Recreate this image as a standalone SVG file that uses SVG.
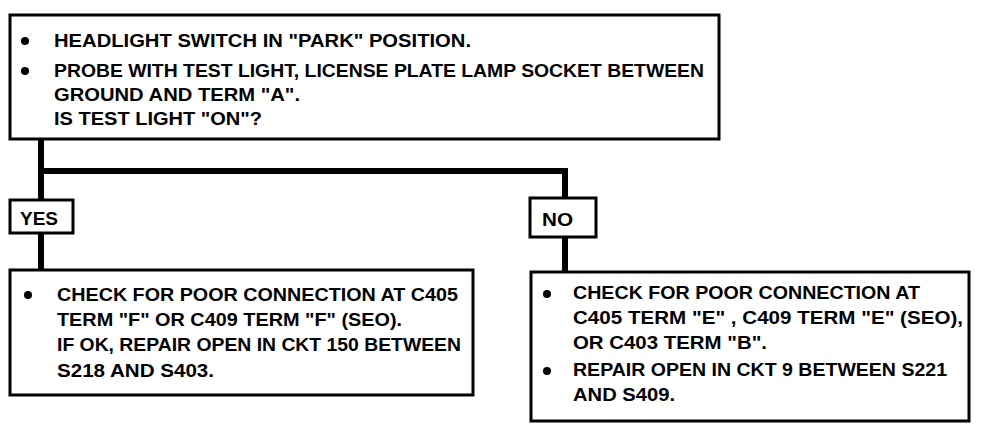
<svg xmlns="http://www.w3.org/2000/svg" width="992" height="426" viewBox="0 0 992 426">
<style>
.box{fill:#fff;stroke:#000;stroke-width:3}
.conn{fill:none;stroke:#000;stroke-width:6}
text{font-family:"Liberation Sans",Arial,sans-serif;font-weight:bold;font-size:18px;fill:#000}
.dot{fill:#000}
</style>
<rect width="992" height="426" fill="#fff"/>
<g id="connectors">
<path class="conn" d="M41 139 V270"/>
<path class="conn" d="M41 171 H565 V272"/>
</g>
<g id="question">
<rect class="box" x="10" y="15" width="709" height="124"/>
<circle class="dot" cx="25" cy="41" r="4"/>
<circle class="dot" cx="25" cy="71" r="4"/>
<text x="54" y="47" textLength="417" lengthAdjust="spacingAndGlyphs">HEADLIGHT SWITCH IN "PARK" POSITION.</text>
<text x="54" y="77" textLength="650" lengthAdjust="spacingAndGlyphs">PROBE WITH TEST LIGHT, LICENSE PLATE LAMP SOCKET BETWEEN</text>
<text x="54" y="101" textLength="246" lengthAdjust="spacingAndGlyphs">GROUND AND TERM "A".</text>
<text x="54" y="125" textLength="208" lengthAdjust="spacingAndGlyphs">IS TEST LIGHT "ON"?</text>
</g>
<g id="yes">
<rect class="box" x="10" y="200" width="63" height="33"/>
<text x="20" y="225" textLength="38" lengthAdjust="spacingAndGlyphs">YES</text>
</g>
<g id="no">
<rect class="box" x="530" y="198" width="66" height="39"/>
<text x="542" y="226" textLength="31" lengthAdjust="spacingAndGlyphs">NO</text>
</g>
<g id="yes-action">
<rect class="box" x="10" y="270" width="463" height="125"/>
<circle class="dot" cx="28" cy="295" r="4"/>
<text x="57" y="301" textLength="401" lengthAdjust="spacingAndGlyphs">CHECK FOR POOR CONNECTION AT C405</text>
<text x="57" y="326" textLength="345" lengthAdjust="spacingAndGlyphs">TERM "F" OR C409 TERM "F" (SEO).</text>
<text x="57" y="351" textLength="404" lengthAdjust="spacingAndGlyphs">IF OK, REPAIR OPEN IN CKT 150 BETWEEN</text>
<text x="57" y="377" textLength="157" lengthAdjust="spacingAndGlyphs">S218 AND S403.</text>
</g>
<g id="no-action">
<rect class="box" x="531" y="272" width="438" height="149"/>
<circle class="dot" cx="547" cy="294" r="4"/>
<circle class="dot" cx="547" cy="371" r="4"/>
<text x="573" y="299" textLength="347" lengthAdjust="spacingAndGlyphs">CHECK FOR POOR CONNECTION AT</text>
<text x="573" y="324" textLength="390" lengthAdjust="spacingAndGlyphs">C405 TERM "E" , C409 TERM "E" (SEO),</text>
<text x="573" y="349" textLength="194" lengthAdjust="spacingAndGlyphs">OR C403 TERM "B".</text>
<text x="573" y="376" textLength="374" lengthAdjust="spacingAndGlyphs">REPAIR OPEN IN CKT 9 BETWEEN S221</text>
<text x="573" y="401" textLength="102" lengthAdjust="spacingAndGlyphs">AND S409.</text>
</g>
</svg>
